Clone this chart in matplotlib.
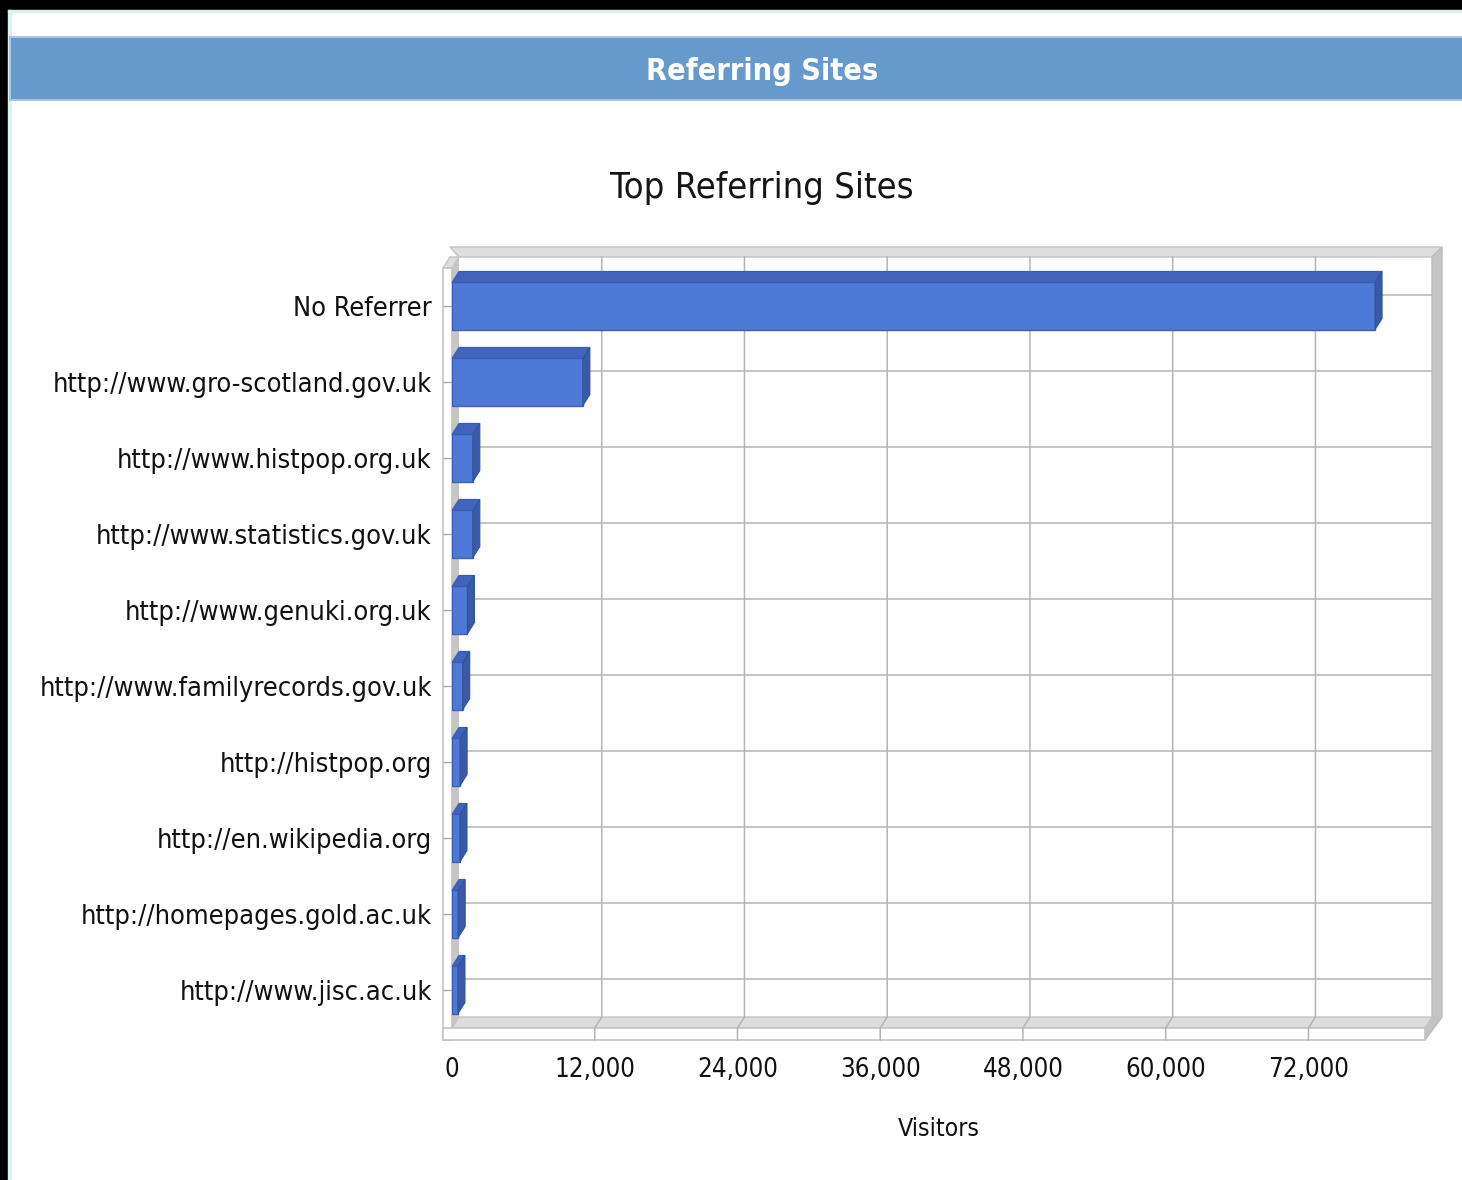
import matplotlib
matplotlib.use("Agg")
import matplotlib.pyplot as plt
import matplotlib.font_manager as fm
from matplotlib.patches import Rectangle, Polygon

# the reference uses a narrow face; take a condensed sans if one is installed
family, stretch = 'Liberation Sans', 'normal'
for f in fm.fontManager.ttflist:
    if 'Mono' in f.name or 'Serif' in f.name:
        continue
    if 'Narrow' in f.name or 'Condensed' in f.name or f.stretch in ('condensed', 'semi-condensed'):
        family, stretch = f.name, f.stretch
        break
plt.rcParams['font.family'] = [family, 'Liberation Sans', 'DejaVu Sans']
plt.rcParams['font.stretch'] = stretch

# data
sites = [
    'No Referrer',
    'http://www.gro-scotland.gov.uk',
    'http://www.histpop.org.uk',
    'http://www.statistics.gov.uk',
    'http://www.genuki.org.uk',
    'http://www.familyrecords.gov.uk',
    'http://histpop.org',
    'http://en.wikipedia.org',
    'http://homepages.gold.ac.uk',
    'http://www.jisc.ac.uk',
]
visitors = [77600, 11000, 1750, 1750, 1300, 900, 680, 670, 520, 500]
x_ticks = [0, 12000, 24000, 36000, 48000, 60000, 72000]
x_tick_labels = ['0', '12,000', '24,000', '36,000', '48,000', '60,000', '72,000']

W, H = 1462, 1180
fig = plt.figure(figsize=(W / 100, H / 100), dpi=100)
fig.patch.set_facecolor('white')
renderer = fig.canvas.get_renderer()


def fit(txt, target_px):
    # scale a text so its width matches the reference
    w = txt.get_window_extent(renderer).width
    txt.set_fontsize(txt.get_fontsize() * target_px / w)


# background layer in pixel units (frame + header band)
bg = fig.add_axes([0, 0, 1, 1], zorder=0)
bg.set_xlim(0, W)
bg.set_ylim(H, 0)
bg.axis('off')
bg.add_patch(Rectangle((0, 0), W, 10, color='black'))
bg.add_patch(Rectangle((0, 0), 8, H, color='black'))
bg.add_patch(Rectangle((8, 10), 2.5, H, color='#dff0f0'))
bg.add_patch(Rectangle((8, 10), W, 2, color='#dff0f0'))
bg.add_patch(Rectangle((10, 37), W, 63, facecolor='#6699cc', edgecolor='#a9c6e4', lw=1.5))
head = bg.text(762, 71, 'Referring Sites', color='white', fontsize=27, fontweight='bold',
               ha='center', va='center')
fit(head, 233)
title = bg.text(762, 188, 'Top Referring Sites', color='#151515', fontsize=30,
                ha='center', va='center')
fit(title, 303)

# front plane of the 3d chart
left_px, right_px, top_px, bottom_px = 452, 1425, 268, 1028
xmax = 81800
ax = fig.add_axes([left_px / W, 1 - bottom_px / H, (right_px - left_px) / W,
                   (bottom_px - top_px) / H], zorder=1)
ax.set_xlim(0, xmax)
ax.set_ylim(len(sites) - 0.5, -0.5)
ax.patch.set_alpha(0)
for s in ax.spines.values():
    s.set_visible(False)

sx = xmax / (right_px - left_px)       # data units per pixel
sy = len(sites) / (bottom_px - top_px)
dx, dy = 7 * sx, -11 * sy               # depth offset
wall = 9 * sx                           # left wall thickness
slab = 12 * sy                          # floor thickness
y0, y1 = -0.5, len(sites) - 0.5

grid_c = '#b4b4b4'
edge_c = '#c4c4c4'
kw = dict(clip_on=False)

# back wall and its rim
ax.add_patch(Polygon([(dx, y0 + dy), (xmax + dx, y0 + dy), (xmax + dx, y1 + dy), (dx, y1 + dy)],
                     facecolor='white', edgecolor='none', zorder=0, **kw))
ax.add_patch(Polygon([(dx - wall, y0 + dy - 10 * sy), (xmax + dx + 10 * sx, y0 + dy - 10 * sy),
                      (xmax + dx, y0 + dy), (dx, y0 + dy)],
                     facecolor='#dedede', edgecolor=edge_c, lw=1, zorder=0.5, **kw))
ax.add_patch(Polygon([(xmax + dx, y0 + dy), (xmax + dx + 10 * sx, y0 + dy - 10 * sy),
                      (xmax + dx + 10 * sx, y1 + dy), (xmax, y1 + slab), (xmax, y1),
                      (xmax + dx, y1 + dy)],
                     facecolor='#c4c4c4', edgecolor='#bcbcbc', lw=1, zorder=0.5, **kw))

# left wall: inner face, top, front face
ax.add_patch(Polygon([(0, y0), (dx, y0 + dy), (dx, y1 + dy), (0, y1)],
                     facecolor='#c6c6c6', edgecolor='none', zorder=0.6, **kw))
ax.add_patch(Polygon([(-wall, y0), (0, y0), (dx, y0 + dy), (dx - wall, y0 + dy)],
                     facecolor='#dedede', edgecolor=edge_c, lw=1, zorder=0.6, **kw))
ax.add_patch(Rectangle((-wall, y0), wall, y1 + slab - y0, facecolor='white',
                       edgecolor=edge_c, lw=1.2, zorder=0.7, **kw))

# floor: top face and front face
ax.add_patch(Polygon([(0, y1), (xmax, y1), (xmax + dx, y1 + dy), (dx, y1 + dy)],
                     facecolor='#dcdcdc', edgecolor=edge_c, lw=1, zorder=0.6, **kw))
ax.add_patch(Rectangle((-wall, y1), xmax + wall, slab, facecolor='white',
                       edgecolor=edge_c, lw=1.2, zorder=0.7, **kw))

# grid lines on back wall, carried across the floor
for t in x_ticks[1:]:
    ax.plot([t + dx, t + dx, t, t], [y0 + dy, y1 + dy, y1, y1 + slab],
            color=grid_c, lw=1.1, zorder=0.8, **kw)
for i in range(len(sites)):
    ax.plot([dx, xmax + dx], [i + dy, i + dy], color=grid_c, lw=1.1, zorder=0.8, **kw)

# 3d bars
bh = 0.31
for i, v in enumerate(visitors):
    ax.add_patch(Rectangle((0, i - bh), v, 2 * bh, facecolor='#4e79d6',
                           edgecolor='#3c60b4', lw=1, zorder=3))
    ax.add_patch(Polygon([(0, i - bh), (v, i - bh), (v + dx, i - bh + dy), (dx, i - bh + dy)],
                         facecolor='#4064bc', edgecolor='#3a5cb0', lw=0.8, zorder=3, **kw))
    ax.add_patch(Polygon([(v, i - bh), (v + dx, i - bh + dy), (v + dx, i + bh + dy), (v, i + bh)],
                         facecolor='#3a5aa8', edgecolor='#34529c', lw=0.8, zorder=3, **kw))

ax.set_yticks(range(len(sites)))
ax.set_yticklabels(sites, fontsize=24, color='#111111')
ax.tick_params(axis='y', length=6.5, width=1, color='#a8a8a8', pad=8)
ax.set_xticks(x_ticks)
ax.set_xticklabels(x_tick_labels, fontsize=23, color='#111111')
ax.tick_params(axis='x', length=0, pad=21)

# match label sizes to the reference widths
ylab = ax.get_yticklabels()
ysize = 24 * 379 / ylab[1].get_window_extent(renderer).width
ax.tick_params(axis='y', labelsize=ysize)
xlab = ax.get_xticklabels()
xsize = 23 * 81 / xlab[1].get_window_extent(renderer).width
ax.tick_params(axis='x', labelsize=xsize)

xl = ax.set_xlabel('Visitors', fontsize=22, color='#111111', labelpad=24)
fit(xl, 82)

fig.savefig('out.png', dpi=100)
